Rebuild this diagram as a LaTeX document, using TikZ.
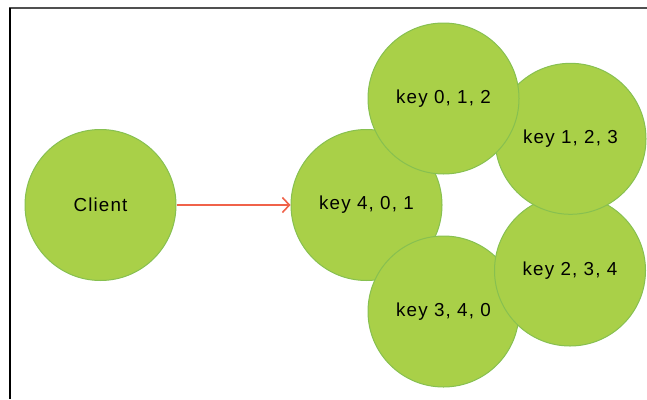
\documentclass[tikz,border=0pt]{standalone}
\usepackage{fontspec}
\newfontfamily\labfont{Liberation Sans}[LetterSpace=6]
\usetikzlibrary{arrows.meta}
\definecolor{cfill}{RGB}{169,208,72}
\definecolor{cline}{RGB}{135,192,80}
\definecolor{carrow}{RGB}{240,98,74}
\definecolor{frametop}{RGB}{80,80,80}
\begin{document}
\begin{tikzpicture}[x=1pt,y=-1pt,
  ball/.style={circle, draw=cline, line width=1pt, fill=cfill, minimum size=151pt, inner sep=0pt,
    font=\labfont\fontsize{18.8}{22}\selectfont, text=black},
  link/.style={draw=carrow, line width=1.6pt, -{Straight Barb[length=7pt,width=15pt,line width=1.6pt]}}]
\useasboundingbox (0,0) rectangle (647,399);
\draw[frametop, line width=2pt] (9,7.7) -- (647,7.7);
\draw[black, line width=2pt] (10,7.7) -- (10,399);
\node[ball] (client) at (100.5,205) {Client};
\node[ball] (k401) at (366.5,205) {key 4, 0, 1};
\node[ball] (k340) at (443.5,311.5) {key 3, 4, 0};
\node[ball] (k234) at (570,270.5) {key 2, 3, 4};
\node[ball] (k123) at (570.5,138.8) {key 1, 2, 3};
\node[ball] (k012) at (443.5,98.5) {key 0, 1, 2};
\draw[link] (client) -- (k401);
\end{tikzpicture}
\end{document}
